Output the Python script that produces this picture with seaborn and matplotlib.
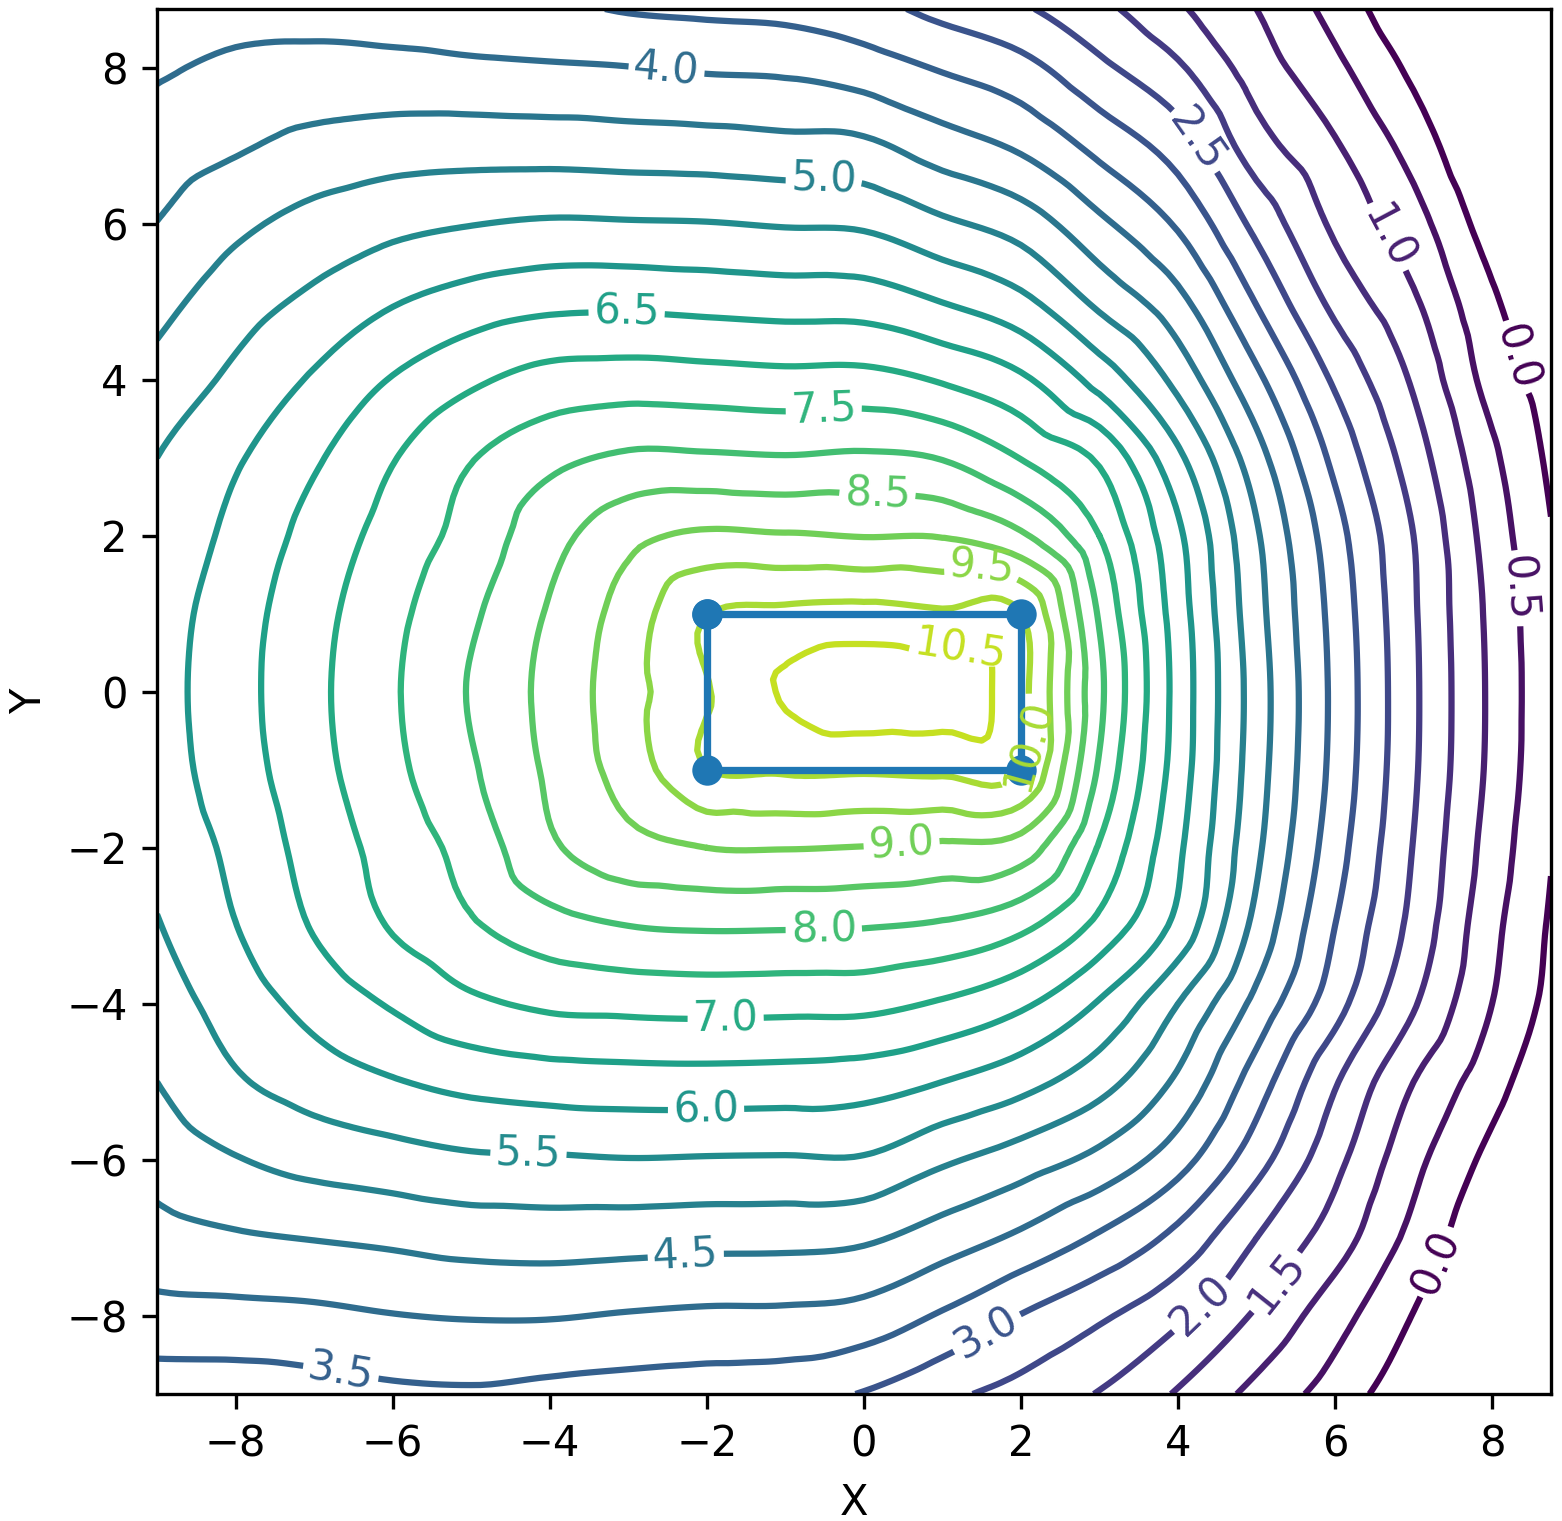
import numpy as np
import pandas as pd
import seaborn as sns
import matplotlib
matplotlib.use("Agg")
import matplotlib.pyplot as plt
import matplotlib.tri as mtri

# grid (x columns, y rows)
xs = [-9, -8, -7, -6, -5, -4, -3, -2, -1, 0, 1, 2, 3, 4, 5, 6, 7, 8, 8.75]
ys = [-9, -8, -7, -6, -5, -4, -3, -2, -1, 0, 1, 2, 3, 4, 5, 6, 7, 8, 8.75]

z_rows = [
    [3.22, 3.23, 3.30, 3.40, 3.43, 3.35, 3.29, 3.24, 3.19, 2.97, 2.62, 2.33, 1.97, 1.45, 0.85, 0.27, -0.35, -1.00, -1.30],
    [3.83, 3.85, 3.89, 3.98, 4.03, 4.03, 3.96, 3.91, 3.90, 3.81, 3.44, 2.98, 2.58, 2.10, 1.43, 0.70, -0.02, -0.75, -1.10],
    [4.32, 4.44, 4.52, 4.60, 4.70, 4.73, 4.70, 4.66, 4.65, 4.58, 4.26, 3.90, 3.43, 2.85, 2.00, 1.25, 0.35, -0.45, -0.90],
    [4.69, 4.97, 5.17, 5.30, 5.42, 5.44, 5.48, 5.46, 5.45, 5.45, 5.08, 4.75, 4.35, 3.70, 2.70, 1.65, 0.65, -0.15, -0.65],
    [5.00, 5.44, 5.73, 5.96, 6.15, 6.25, 6.29, 6.30, 6.28, 6.22, 6.00, 5.68, 5.19, 4.40, 3.25, 2.05, 1.00, 0.20, -0.40],
    [5.24, 5.73, 6.17, 6.55, 6.90, 7.09, 7.14, 7.17, 7.15, 7.14, 6.94, 6.59, 5.95, 5.00, 3.85, 2.70, 1.55, 0.50, -0.15],
    [5.47, 5.99, 6.54, 7.04, 7.44, 7.80, 8.00, 8.06, 8.05, 8.03, 7.93, 7.62, 6.85, 5.85, 4.35, 3.00, 1.85, 0.64, -0.06],
    [5.65, 6.12, 6.70, 7.20, 7.70, 8.42, 8.83, 9.00, 9.02, 8.98, 8.90, 8.77, 7.45, 6.10, 4.60, 3.22, 1.98, 0.78, 0.03],
    [5.77, 6.27, 6.83, 7.38, 7.94, 8.58, 9.22, 9.99, 10.05, 10.05, 10.08, 10.01, 7.93, 6.27, 4.72, 3.35, 2.07, 0.88, 0.10],
    [5.80, 6.32, 6.88, 7.44, 8.04, 8.65, 9.30, 9.97, 10.55, 10.80, 10.72, 10.15, 8.11, 6.32, 4.76, 3.38, 2.09, 0.90, 0.12],
    [5.76, 6.28, 6.83, 7.37, 7.92, 8.55, 9.22, 9.99, 10.10, 10.15, 10.06, 10.01, 7.94, 6.25, 4.68, 3.33, 2.06, 0.87, 0.10],
    [5.65, 6.13, 6.68, 7.20, 7.69, 8.32, 8.84, 9.08, 9.04, 8.98, 8.97, 8.58, 7.50, 6.10, 4.56, 3.20, 2.00, 0.77, 0.03],
    [5.50, 5.94, 6.43, 6.97, 7.47, 7.85, 8.08, 8.07, 8.03, 8.08, 7.97, 7.48, 6.91, 5.61, 4.20, 2.87, 1.75, 0.60, -0.10],
    [5.17, 5.61, 6.06, 6.53, 6.91, 7.18, 7.24, 7.20, 7.15, 7.16, 6.95, 6.59, 5.81, 4.84, 3.62, 2.42, 1.43, 0.30, -0.25],
    [4.84, 5.27, 5.61, 5.96, 6.21, 6.36, 6.38, 6.33, 6.28, 6.26, 5.99, 5.63, 4.88, 4.15, 2.97, 1.86, 1.07, 0.08, -0.45],
    [4.51, 4.89, 5.17, 5.36, 5.48, 5.56, 5.54, 5.52, 5.46, 5.42, 5.09, 4.77, 4.11, 3.43, 2.36, 1.40, 0.70, -0.25, -0.70],
    [4.22, 4.44, 4.64, 4.75, 4.78, 4.77, 4.73, 4.70, 4.64, 4.60, 4.23, 3.91, 3.34, 2.76, 1.72, 1.05, 0.30, -0.60, -0.95],
    [3.94, 4.10, 4.15, 4.14, 4.09, 4.05, 4.01, 3.94, 3.90, 3.73, 3.45, 3.16, 2.61, 2.07, 1.25, 0.62, -0.12, -0.90, -1.15],
    [3.78, 3.82, 3.82, 3.75, 3.68, 3.60, 3.46, 3.40, 3.35, 3.17, 2.85, 2.57, 2.13, 1.58, 1.00, 0.32, -0.45, -1.10, -1.30],
]

levels = np.arange(0, 12, 0.5)

# rectangle corners (closed)
rect_x = [-2, 2, 2, -2, -2]
rect_y = [1, 1, -1, -1, 1]

label_spots = [(-2.51, 7.99), (-0.51, 6.58), (-3.02, 4.87), (-0.51, 3.61),
               (0.17, 2.57), (1.5, 1.58), (1.24, 0.49), (1.94, -0.66),
               (0.48, -1.94), (-0.51, -2.99), (-1.76, -4.14), (-2.01, -5.3),
               (-4.27, -5.91), (-2.27, -7.17), (-6.65, -8.67), (1.53, -8.15),
               (4.2, -7.77), (5.18, -7.51), (7.22, -7.28), (8.41, 4.31),
               (8.39, 1.33), (6.82, 5.91), (4.27, 7.09)]

sns.set_style("ticks", {"axes.edgecolor": "black", "xtick.color": "black",
                        "ytick.color": "black", "text.color": "black",
                        "axes.labelcolor": "black"})
plt.rcParams["font.family"] = ["DejaVu Sans"]
plt.rcParams["font.size"] = 10
plt.rcParams["axes.linewidth"] = 0.8
plt.rcParams["xtick.major.size"] = 3.5
plt.rcParams["ytick.major.size"] = 3.5
plt.rcParams["xtick.major.width"] = 0.8
plt.rcParams["ytick.major.width"] = 0.8

fig = plt.figure(figsize=(1562 / 300, 1521 / 300), dpi=300)
ax = fig.add_axes([157 / 1562, 127 / 1521, 1394 / 1562, 1385 / 1521])

# smooth the coarse grid with matplotlib's own refiner before contouring
Z = np.array(z_rows)
gx, gy = np.meshgrid(xs, ys)
tri = mtri.Triangulation(gx.ravel(), gy.ravel())
interp = mtri.CubicTriInterpolator(tri, Z.ravel(), kind="geom")
tri_f, z_f = mtri.UniformTriRefiner(tri).refine_field(Z.ravel(), triinterpolator=interp, subdiv=3)

cs = ax.tricontour(tri_f, z_f, levels=levels, cmap="viridis", linewidths=1.5)
ax.clabel(cs, inline=True, fontsize=10, fmt="%1.1f", manual=label_spots)

rect = pd.DataFrame({"x": rect_x, "y": rect_y})
sns.lineplot(data=rect, x="x", y="y", sort=False, estimator=None, ax=ax,
             color="#1f77b4", linewidth=1.75, marker="o", markersize=7.3,
             markeredgecolor="#1f77b4", markeredgewidth=0)

ax.set_xlim(-9, 8.75)
ax.set_ylim(-9, 8.75)
ax.set_xticks([-8, -6, -4, -2, 0, 2, 4, 6, 8])
ax.set_yticks([-8, -6, -4, -2, 0, 2, 4, 6, 8])
ax.set_xlabel("X")
ax.set_ylabel("Y")

fig.savefig("out.png", dpi=300)
